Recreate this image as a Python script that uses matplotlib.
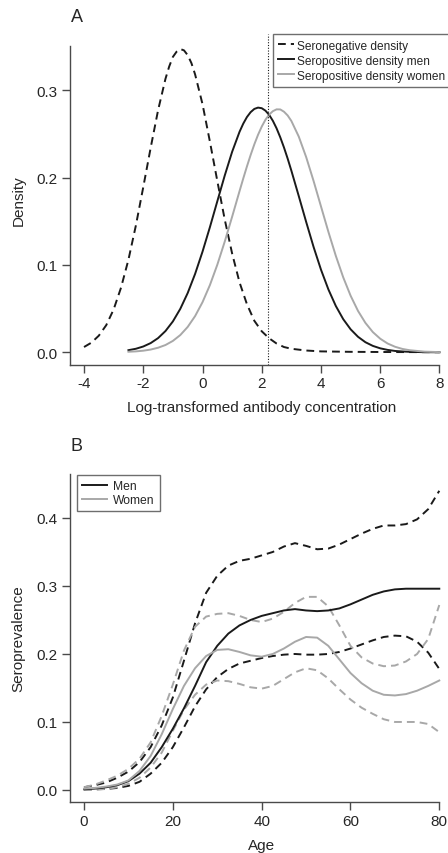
import matplotlib
matplotlib.use("Agg")
import matplotlib.pyplot as plt

plt.rcParams['font.family'] = ['Liberation Sans', 'DejaVu Sans']
plt.rcParams['axes.unicode_minus'] = False

# Panel A: densities of log-transformed antibody concentration
neg_x = [-4, -3.75, -3.5, -3.25, -3, -2.75, -2.5, -2.25, -2, -1.75, -1.5, -1.25, -1.125,
         -1, -0.875, -0.75, -0.625, -0.5, -0.375, -0.25, 0, 0.25, 0.5, 0.75, 1, 1.25,
         1.5, 1.75, 2, 2.25, 2.5, 2.75, 3, 3.5, 4, 5, 6, 7, 8]
neg_y = [0.006, 0.011, 0.019, 0.031, 0.049, 0.074, 0.106, 0.145, 0.189, 0.234, 0.277,
         0.313, 0.327, 0.338, 0.344, 0.347, 0.3455, 0.340, 0.331, 0.318, 0.284, 0.241,
         0.196, 0.152, 0.113, 0.080, 0.055, 0.036, 0.024, 0.016, 0.010, 0.006, 0.004,
         0.002, 0.001, 0.0005, 0.0003, 0.0002, 0.0001]

pos_x = [-2.5, -2.25, -2, -1.75, -1.5, -1.25, -1, -0.75, -0.5, -0.25, 0, 0.25, 0.5,
         0.75, 1, 1.25, 1.375, 1.5, 1.625, 1.75, 1.875, 2, 2.125, 2.25, 2.375, 2.5,
         2.625, 2.75, 2.875, 3, 3.25, 3.5, 3.75, 4, 4.25, 4.5, 4.75, 5, 5.25, 5.5,
         5.75, 6, 6.25, 6.5, 6.75, 7, 7.5, 8]
men_y = [0.0024, 0.004, 0.0066, 0.0105, 0.0162, 0.0243, 0.0353, 0.0497, 0.0678, 0.0897,
         0.1151, 0.1432, 0.1728, 0.2022, 0.2294, 0.2523, 0.2616, 0.2692, 0.2748, 0.2785,
         0.28, 0.2793, 0.2765, 0.2717, 0.2649, 0.2563, 0.246, 0.2344, 0.2216, 0.2078,
         0.1787, 0.1491, 0.1205, 0.0945, 0.0719, 0.053, 0.0379, 0.0263, 0.0177, 0.0115,
         0.0073, 0.0045, 0.0027, 0.0015, 0.0009, 0.0005, 0.0001, 0.0]
women_y = [0.0006, 0.001, 0.0018, 0.0031, 0.0052, 0.0083, 0.013, 0.0197, 0.029, 0.0414,
           0.0573, 0.0769, 0.1002, 0.1266, 0.1551, 0.1844, 0.1988, 0.2127, 0.2258, 0.238,
           0.2489, 0.2583, 0.2661, 0.272, 0.2759, 0.278, 0.2779, 0.2753, 0.271, 0.2647,
           0.2468, 0.2233, 0.196, 0.1669, 0.1378, 0.1104, 0.0858, 0.0647, 0.0473, 0.0336,
           0.0231, 0.0155, 0.01, 0.0063, 0.0038, 0.0023, 0.0007, 0.0002]
cutoff = 2.2

# Panel B: seroprevalence by age, with confidence bands
age = [0, 2.5, 5, 7.5, 10, 12.5, 15, 17.5, 20, 22.5, 25, 27.5, 30, 32.5, 35, 37.5, 40,
       42.5, 45, 47.5, 50, 52.5, 55, 57.5, 60, 62.5, 65, 67.5, 70, 72.5, 75, 77.5, 80]
men_prev = [0.001, 0.002, 0.004, 0.007, 0.013, 0.024, 0.04, 0.063, 0.09, 0.12, 0.153,
            0.188, 0.212, 0.23, 0.242, 0.25, 0.256, 0.26, 0.264, 0.266, 0.264, 0.263,
            0.264, 0.267, 0.273, 0.28, 0.287, 0.292, 0.295, 0.296, 0.296, 0.296, 0.296]
men_hi = [0.004, 0.007, 0.011, 0.018, 0.027, 0.041, 0.063, 0.095, 0.136, 0.19, 0.245,
          0.29, 0.315, 0.33, 0.337, 0.34, 0.345, 0.35, 0.358, 0.363, 0.359, 0.354, 0.355,
          0.361, 0.369, 0.377, 0.384, 0.389, 0.389, 0.391, 0.398, 0.413, 0.44]
men_lo = [0.0005, 0.001, 0.0015, 0.003, 0.006, 0.012, 0.024, 0.04, 0.063, 0.092, 0.123,
          0.148, 0.166, 0.178, 0.186, 0.19, 0.194, 0.197, 0.199, 0.2, 0.199, 0.199, 0.2,
          0.203, 0.208, 0.214, 0.22, 0.225, 0.227, 0.226, 0.218, 0.202, 0.178]
women_prev = [0.002, 0.003, 0.005, 0.008, 0.014, 0.028, 0.05, 0.082, 0.119, 0.153, 0.179,
              0.197, 0.206, 0.207, 0.203, 0.198, 0.196, 0.2, 0.208, 0.218, 0.225, 0.224,
              0.212, 0.192, 0.172, 0.157, 0.146, 0.14, 0.139, 0.141, 0.146, 0.153, 0.161]
women_hi = [0.004, 0.008, 0.014, 0.021, 0.031, 0.046, 0.07, 0.109, 0.155, 0.205, 0.24,
            0.255, 0.259, 0.26, 0.256, 0.25, 0.247, 0.252, 0.262, 0.275, 0.284, 0.284,
            0.27, 0.242, 0.212, 0.195, 0.186, 0.182, 0.183, 0.189, 0.2, 0.222, 0.272]
women_lo = [0.0, 0.0005, 0.0015, 0.004, 0.009, 0.018, 0.033, 0.055, 0.087, 0.118, 0.14,
            0.155, 0.161, 0.16, 0.156, 0.151, 0.149, 0.153, 0.163, 0.173, 0.179, 0.176,
            0.164, 0.148, 0.133, 0.121, 0.112, 0.104, 0.1, 0.1, 0.1, 0.097, 0.085]

BLACK = '#1a1a1a'
GREY = '#a8a8a8'
AXIS = '#4a4a4a'
TEXT = '#262626'
DASH = (4, 2.6)

W, H = 448, 854
fig = plt.figure(figsize=(W / 100, H / 100), dpi=100)


def px_axes(left, right, top, bottom):
    return fig.add_axes([left / W, 1 - bottom / H, (right - left) / W, (bottom - top) / H])


def style(ax):
    for s in ['top', 'right']:
        ax.spines[s].set_visible(False)
    for s in ['left', 'bottom']:
        ax.spines[s].set_color(AXIS)
        ax.spines[s].set_linewidth(1.0)
    ax.tick_params(length=5.5, width=1.0, color=AXIS, labelsize=11, labelcolor=TEXT, pad=3)


def style_legend(leg):
    leg.get_frame().set_edgecolor(AXIS)
    leg.get_frame().set_linewidth(1.0)
    for t in leg.get_texts():
        t.set_color(TEXT)


# ---- A ----
axA = px_axes(69.8, 453.7, 35.2, 365.5)
style(axA)
axA.plot(neg_x, neg_y, color=BLACK, lw=1.4, dashes=DASH, label='Seronegative density')
axA.plot(pos_x, men_y, color=BLACK, lw=1.4, label='Seropositive density men')
axA.plot(pos_x, women_y, color=GREY, lw=1.4, label='Seropositive density women')
axA.axvline(cutoff, color=BLACK, lw=0.8, ls=(0, (1, 1.5)))
axA.set_xlim(-4.48, 8.48)
axA.set_ylim(-0.014, 0.364)
axA.spines['bottom'].set_bounds(-4.48, 8)
axA.spines['left'].set_bounds(-0.014, 0.35)
axA.set_xticks([-4, -2, 0, 2, 4, 6, 8])
axA.set_yticks([0.0, 0.1, 0.2, 0.3])
axA.set_yticklabels(['0.0', '0.1', '0.2', '0.3'])
axA.set_xlabel('Log-transformed antibody concentration', fontsize=11, color=TEXT, labelpad=7)
axA.set_ylabel('Density', fontsize=11, color=TEXT, labelpad=8)
legA = axA.legend(loc='upper left', bbox_to_anchor=((273 - 69.8) / 383.9, 1), fontsize=8.6,
                  frameon=True, fancybox=False, handlelength=1.3, handletextpad=0.3,
                  labelspacing=0.25, borderpad=0.45, borderaxespad=0)
style_legend(legA)
fig.text(71 / W, 1 - 17 / H, 'A', fontsize=13, color=TEXT, va='center', ha='left')

# ---- B ----
axB = px_axes(69.8, 453.5, 474.8, 803.2)
style(axB)
axB.plot(age, men_hi, color=BLACK, lw=1.4, dashes=DASH)
axB.plot(age, men_lo, color=BLACK, lw=1.4, dashes=DASH)
axB.plot(age, women_hi, color=GREY, lw=1.4, dashes=DASH)
axB.plot(age, women_lo, color=GREY, lw=1.4, dashes=DASH)
axB.plot(age, men_prev, color=BLACK, lw=1.4, label='Men')
axB.plot(age, women_prev, color=GREY, lw=1.4, label='Women')
axB.set_xlim(-3.2, 83.2)
axB.set_ylim(-0.018, 0.465)
axB.spines['bottom'].set_bounds(-3.2, 80)
axB.set_xticks([0, 20, 40, 60, 80])
axB.set_yticks([0.0, 0.1, 0.2, 0.3, 0.4])
axB.set_yticklabels(['0.0', '0.1', '0.2', '0.3', '0.4'])
axB.set_xlabel('Age', fontsize=11, color=TEXT, labelpad=7)
axB.set_ylabel('Seroprevalence', fontsize=11, color=TEXT, labelpad=8)
legB = axB.legend(loc='upper left', bbox_to_anchor=(0.019, 0.996), fontsize=8.7, frameon=True,
                  fancybox=False, handlelength=2.1, handletextpad=0.5, labelspacing=0.2,
                  borderpad=0.4, borderaxespad=0)
style_legend(legB)
fig.text(71 / W, 1 - 447 / H, 'B', fontsize=13, color=TEXT, va='center', ha='left')

fig.savefig('out.png', dpi=100)
